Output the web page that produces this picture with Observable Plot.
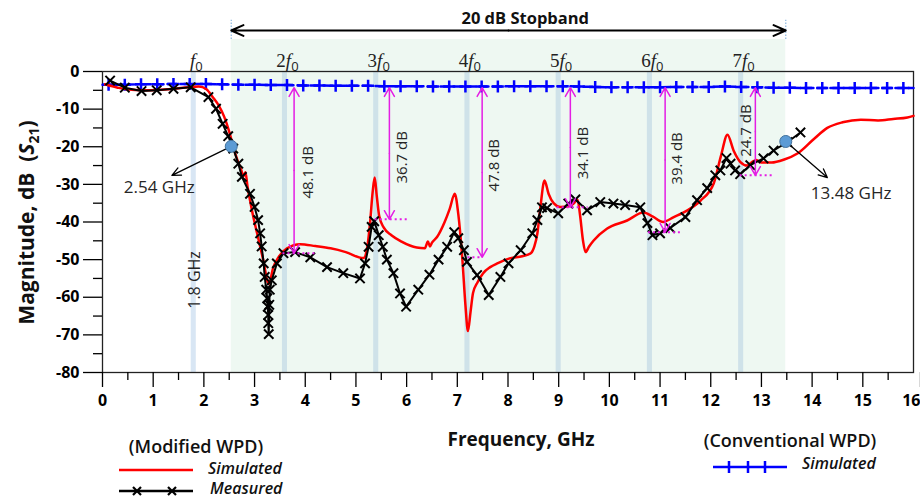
<!DOCTYPE html>
<html><head><meta charset="utf-8">
<script src="https://cdn.jsdelivr.net/npm/d3@7"></script>
<script src="https://cdn.jsdelivr.net/npm/@observablehq/plot@0.6"></script>
<style>
body{margin:0;background:#fff;}
svg{display:block;}
</style>
</head><body><div id="chart"></div>
<script>
// ---- Data ----
// Modified WPD, simulated (red)
const simF  = [0.05,0.3,0.5,0.8,1.1,1.4,1.7,1.9,2.05,2.18,2.3,2.4,2.5,2.58,2.66,2.74,2.78,2.82,2.86,2.9,2.95,3.05,3.17,3.28,3.37,3.47,3.64,3.9,4.2,4.5,4.8,5.15,5.22,5.28,5.33,5.37,5.41,5.46,5.55,5.7,5.9,6.2,6.36,6.42,6.46,6.5,6.6,6.75,6.85,6.95,7.02,7.1,7.16,7.21,7.26,7.31,7.4,7.51,7.65,7.79,8.05,8.28,8.45,8.52,8.58,8.64,8.72,8.8,8.9,9.03,9.2,9.3,9.37,9.42,9.48,9.53,9.6,9.69,9.95,10.35,10.67,10.86,11.06,11.27,11.54,11.8,12.06,12.2,12.33,12.45,12.58,12.72,12.82,12.9,13.0,13.2,13.45,13.71,14.03,14.3,14.6,14.96,15.3,15.6,15.88,16.0];
const simDb = [-3.4,-4.3,-4.8,-5.0,-4.9,-4.6,-4.2,-4.0,-4.7,-6.9,-9.2,-12,-16,-20,-23.5,-26.3,-27.8,-26.8,-30.5,-33.5,-37,-43,-50,-56.5,-52,-49.4,-47,-45.9,-46.4,-47,-48,-49.6,-47,-40,-32,-28.2,-33,-38.5,-41.5,-43.5,-45.2,-46.8,-47,-45.2,-46.5,-45.5,-44,-40,-36.5,-32.5,-38,-50,-62,-69,-64,-58.9,-56,-53.6,-52,-51,-49.6,-49.1,-48.3,-46.5,-43,-36,-29,-32.5,-35,-36,-35.8,-35,-34,-38,-45,-48,-46.5,-44.9,-41.8,-39.6,-37.5,-38.6,-40,-38.7,-36.9,-34.3,-29.7,-22.5,-16.8,-21,-24,-25,-24,-23.5,-24.2,-24.2,-23.4,-21.8,-18,-15,-13.5,-12.8,-13,-12.6,-12.2,-11.8];

// Modified WPD, measured (black with x markers)
const measF  = [0.15,0.44,0.77,1.07,1.4,1.74,2.09,2.24,2.37,2.48,2.58,2.68,2.75,2.91,3.0,3.07,3.11,3.14,3.18,3.2,3.23,3.25,3.26,3.27,3.27,3.28,3.29,3.3,3.34,3.44,3.57,3.8,4.1,4.43,4.75,5.08,5.18,5.25,5.31,5.36,5.45,5.53,5.61,5.74,5.87,5.99,6.23,6.45,6.63,6.8,6.94,7.02,7.13,7.19,7.39,7.62,7.85,8.01,8.25,8.48,8.58,8.67,8.77,8.99,9.19,9.33,9.56,9.82,10.08,10.31,10.61,10.75,10.85,11.0,11.2,11.5,11.73,11.93,12.09,12.19,12.31,12.39,12.48,12.58,12.78,13.04,13.24,13.51,13.77];
const measDb = [-2.4,-4.3,-5.2,-5.0,-4.6,-4.2,-6.8,-9.9,-13.9,-17.2,-20.5,-24.5,-28,-32.5,-36,-39.5,-43,-46.5,-51,-54.6,-58,-60.3,-62.5,-64.7,-66.9,-69.8,-62,-58,-55.5,-51,-48.3,-48,-49.4,-52,-53.6,-55,-51,-46.6,-41.3,-39.8,-43.5,-46.6,-50,-53.6,-59,-62.5,-58,-54,-50,-46.6,-42.7,-44.3,-47.5,-50.6,-54.1,-59.4,-54.6,-51,-47.5,-43,-39.5,-36.1,-36.3,-37.7,-35.1,-34,-36.9,-34.7,-35.1,-35.5,-36.1,-40.3,-43.5,-43,-41.6,-38.7,-34.2,-31,-27.6,-26.3,-23,-24.5,-26.3,-27.3,-24.9,-23.1,-21,-18.8,-16.2];

// Conventional WPD, simulated (blue with + markers)
const convF  = [0,0.12,0.44,0.76,1.08,1.4,1.72,2.04,2.36,2.68,3.0,3.32,3.64,3.96,4.28,4.6,4.92,5.24,5.56,5.88,6.2,6.52,6.84,7.16,7.48,7.8,8.12,8.44,8.76,9.08,9.4,9.72,10.04,10.36,10.68,11.0,11.32,11.64,11.96,12.28,12.6,12.92,13.24,13.56,13.88,14.2,14.52,14.84,15.16,15.48,15.8,16];
const convDb = [-3.5,-3.5,-3.5,-3.4,-3.4,-3.3,-3.3,-3.3,-3.4,-3.5,-3.5,-3.6,-3.6,-3.7,-3.7,-3.8,-3.8,-3.8,-3.9,-3.9,-3.9,-4.0,-4.0,-4.0,-4.0,-4.0,-3.9,-3.9,-3.9,-3.9,-4.0,-4.1,-4.2,-4.2,-4.2,-4.2,-4.1,-4.1,-4.1,-4.0,-4.1,-4.2,-4.3,-4.3,-4.4,-4.4,-4.4,-4.4,-4.4,-4.4,-4.4,-4.4];

// Harmonics of f0
const f0 = 1.8;
const harmonicN = [1,2,3,4,5,6,7];

// Stopband edges (GHz)
const stopbandEdges = [2.54, 13.48];
const stopbandLabel = "20 dB Stopband";
const edgeDb = [-19.9, -18.6];
const edgeLabels = ["2.54 GHz", "13.48 GHz"];

// Harmonic suppression annotations
const suppF      = [3.78, 5.66, 7.49, 9.23, 11.10, 12.88];
const suppBottom = [-48.3, -39.3, -49.4, -36.1, -42.7, -27.6];
const suppLabels = ["48.1 dB","36.7 dB","47.8 dB","34.1 dB","39.4 dB","24.7 dB"];
const suppTop = -4.3;

// Ticks
const xMajor = d3.range(0, 16, 1);
const xLast = [16];
const xMinor = d3.range(0.5, 16, 1);
const yMajor = d3.range(-80, 1, 10);
const yMinor = d3.range(-75, 0, 10);

// ---- Build tables ----
const simRows  = simF.map((f,i)=>({f, db: simDb[i]}));
const measRows = measF.map((f,i)=>({f, db: measDb[i]}));
const convRows = convF.map((f,i)=>({f, db: convDb[i]}));
const convMarks = convRows.filter(d => d.f > 0 && d.f < 16);
const harmonics = harmonicN.map(n => ({n, f: n*f0}));
const supp = suppF.map((f,i)=>({f, bottom: suppBottom[i], label: suppLabels[i], mid:(suppTop+suppBottom[i])/2}));
// annotation layout (not data)
const suppLabelLayout = [{dx:14,y:-26.8},{dx:13,y:-22.8},{dx:12,y:-24.9},{dx:13,y:-21.7},{dx:12,y:-23.1},{dx:-9,y:-15.7}];
const suppDots = [[3.56,4.25],[5.38,6.05],[7.21,7.49],[8.97,9.58],[10.77,11.44],[12.58,13.22]];
const edgeRows = stopbandEdges.map((f,i)=>({f, db: edgeDb[i], label: edgeLabels[i]}));
const edgeArrowEnd = [{f:1.37, db:-27.6}, {f:14.3, db:-28.2}];
const edgeLabelPos = [{f:1.12, db:-30.8}, {f:14.77, db:-32.4}];

const plusSym = {draw(ctx, size){const r=Math.sqrt(size/Math.PI); ctx.moveTo(-r,0); ctx.lineTo(r,0); ctx.moveTo(0,-r); ctx.lineTo(0,r);}};
const timesSym = {draw(ctx, size){const r=Math.sqrt(size/Math.PI)*0.72; ctx.moveTo(-r,-r); ctx.lineTo(r,r); ctx.moveTo(-r,r); ctx.lineTo(r,-r);}};

const MAG = "#e41ee4";
const txt = "#262626";
const sans = "Open Sans, sans-serif";

const stopMid = (stopbandEdges[0]+stopbandEdges[1])/2;

const suppTextMarks = supp.map((d,i) => Plot.text([d], {x: "f", y: suppLabelLayout[i].y, dx: suppLabelLayout[i].dx, text: "label", rotate: -90, fontSize: 15, fill: txt}));

const plot = Plot.plot({
  width: 920, height: 498,
  marginLeft: 102, marginRight: 7, marginTop: 71, marginBottom: 126,
  x: {domain: [0, 16]},
  y: {domain: [-80, 0]},
  color: {type: "identity"},
  style: {fontFamily: sans, background: "white", overflow: "visible"},
  marks: [
    // stopband shading
    Plot.rect([stopbandEdges], {x1: d=>d[0], x2: d=>d[1], y1: -80, y2: 8.5, fill: "#eef8f2"}),
    // harmonic bands
    Plot.rect(harmonics, {x1: d=>d.f-0.05, x2: d=>d.f+0.05, y1: -80, y2: 0,
      fill: d => (d.f < stopbandEdges[0] ? "#d8e6f4" : "#cfe2e9")}),
    // stopband edge dotted markers
    Plot.ruleX(stopbandEdges, {x: d=>d, y1: 8.5, y2: 13.6, stroke: "#8db8e0", strokeWidth: 1.2, strokeDasharray: "1.5,1.5"}),
    Plot.frame({stroke: "#222", strokeWidth: 1.3}),
    Plot.axisY({ticks: yMajor, tickSize: 19, tickPadding: 4, tickFormat: d => String(d), fontSize: 16, fontWeight: "bold", label: null, strokeWidth: 1.3}),
    Plot.axisY({ticks: yMinor, tickSize: 9, tickFormat: () => "", label: null, strokeWidth: 1.3}),
    Plot.axisX({ticks: xMajor, tickSize: 15, tickPadding: 7, tickFormat: d => String(d), fontSize: 16, fontWeight: "bold", label: null, strokeWidth: 1.3}),
    Plot.axisX({ticks: xLast, tickSize: 15, tickPadding: 7, tickFormat: d => String(d), fontSize: 16, fontWeight: "bold", label: null, strokeWidth: 1.3, textAnchor: "end", dx: 7}),
    Plot.axisX({ticks: xMinor, tickSize: 8, tickFormat: () => "", label: null, strokeWidth: 1.3}),
    // conventional (blue)
    Plot.line(convRows, {x: "f", y: "db", stroke: "#0000ff", strokeWidth: 2.5, strokeDasharray: "9,4"}),
    Plot.dot(convMarks, {x: "f", y: "db", symbol: plusSym, r: 6, stroke: "#0000ff", fill: "none", strokeWidth: 2.5}),
    // simulated (red)
    Plot.line(simRows, {x: "f", y: "db", stroke: "#ff0000", strokeWidth: 2.5, curve: "monotone-x"}),
    // measured (black)
    Plot.line(measRows, {x: "f", y: "db", stroke: "#000", strokeWidth: 2}),
    Plot.dot(measRows, {x: "f", y: "db", symbol: timesSym, r: 6.5, stroke: "#000", fill: "none", strokeWidth: 2}),
    // edge dots and arrows
    Plot.arrow(edgeRows, {x1: "f", y1: "db", x2: (d,i)=>edgeArrowEnd[i].f, y2: (d,i)=>edgeArrowEnd[i].db, stroke: "#000", strokeWidth: 1.3, headLength: 11, headAngle: 50}),
    Plot.dot(edgeRows, {x: "f", y: "db", r: 6, fill: "#5b9bd5", stroke: "#41719c", strokeWidth: 1}),
    Plot.text(edgeRows, {x: (d,i)=>edgeLabelPos[i].f, y: (d,i)=>edgeLabelPos[i].db, text: "label", fontSize: 17, fill: txt}),
    // 1.8 GHz label
    Plot.text([f0], {x: d=>d, y: -55.4, dx: 1, text: d => `${d} GHz`, rotate: -90, fontSize: 16, fill: txt}),
    // harmonic suppression arrows
    Plot.arrow(supp, {x1: "f", x2: "f", y1: "mid", y2: suppTop, stroke: MAG, strokeWidth: 1.5, headLength: 10, headAngle: 60}),
    Plot.arrow(supp, {x1: "f", x2: "f", y1: "mid", y2: "bottom", stroke: MAG, strokeWidth: 1.5, headLength: 10, headAngle: 60}),
    Plot.ruleY(supp, {y: "bottom", x1: (d,i)=>suppDots[i][0], x2: (d,i)=>suppDots[i][1], stroke: MAG, strokeWidth: 2, strokeDasharray: "2,3"}),
    ...suppTextMarks,
    // stopband arrow
    Plot.arrow([stopMid], {x1: d=>d, x2: stopbandEdges[0], y1: 10.9, y2: 10.9, stroke: "#000", strokeWidth: 2, headLength: 10, headAngle: 48}),
    Plot.arrow([stopMid], {x1: d=>d, x2: stopbandEdges[1], y1: 10.9, y2: 10.9, stroke: "#000", strokeWidth: 2, headLength: 10, headAngle: 48}),
    Plot.text([stopbandLabel], {x: 8.34, y: 14.1, text: d=>d, fontSize: 16.5, fontWeight: "bold", fill: "#111"})
  ]
});

document.getElementById("chart").appendChild(plot);

const svg = d3.select(plot);
const xs = plot.scale("x"), ys = plot.scale("y");

// harmonic labels n f0
const hg = svg.append("g").attr("font-family", "Liberation Serif, serif").attr("font-size", 19).attr("fill", "#222").attr("text-anchor", "middle");
harmonics.forEach(h => {
  const t = hg.append("text").attr("x", xs.apply(h.f) + 3).attr("y", 67);
  if (h.n > 1) t.append("tspan").text(h.n);
  t.append("tspan").attr("font-style", "italic").text("f");
  t.append("tspan").attr("font-size", 13).attr("font-family", sans).attr("dy", 4).text("0");
});

// Y axis title
const yt = svg.append("text").attr("transform", `translate(34,${(ys.apply(-80)+ys.apply(0))/2 + 1}) rotate(-90)`)
  .attr("text-anchor", "middle").attr("font-family", sans).attr("font-weight", "bold").attr("font-size", 21).attr("fill", "#111");
yt.append("tspan").text("Magnitude, dB\u00a0\u00a0(");
yt.append("tspan").attr("font-style", "italic").text("S");
yt.append("tspan").attr("font-size", 14).attr("dy", 5).text("21");
yt.append("tspan").attr("dy", -5).text(")");

// X axis title
svg.append("text").attr("x", 521).attr("y", 446).attr("text-anchor", "middle").attr("font-family", sans)
  .attr("font-weight", "bold").attr("font-size", 19).attr("fill", "#111").text("Frequency, GHz");

// Legends
const lg = svg.append("g").attr("font-family", sans).attr("fill", "#111").attr("text-anchor", "start");
lg.append("text").attr("x", 196).attr("y", 453).attr("text-anchor", "middle").attr("font-size", 18).attr("font-weight", 600).text("(Modified WPD)");
lg.append("line").attr("x1", 119).attr("x2", 193).attr("y1", 470).attr("y2", 470).attr("stroke", "#ff0000").attr("stroke-width", 2.5);
lg.append("text").attr("x", 208).attr("y", 474).attr("font-size", 16).attr("font-style", "italic").attr("font-weight", 600).text("Simulated");
lg.append("line").attr("x1", 119).attr("x2", 193).attr("y1", 491).attr("y2", 491).attr("stroke", "#000").attr("stroke-width", 2.5);
[137,172].forEach(x => lg.append("path").attr("d", `M${x-4},${491-4}L${x+4},${491+4}M${x-4},${491+4}L${x+4},${491-4}`).attr("stroke", "#000").attr("stroke-width", 2.2));
lg.append("text").attr("x", 210).attr("y", 494).attr("font-size", 16).attr("font-style", "italic").attr("font-weight", 600).text("Measured");
lg.append("text").attr("x", 790).attr("y", 447).attr("text-anchor", "middle").attr("font-size", 18).attr("font-weight", 600).text("(Conventional WPD)");
lg.append("line").attr("x1", 713).attr("x2", 787).attr("y1", 467).attr("y2", 467).attr("stroke", "#0000ff").attr("stroke-width", 2.5);
[729,748,765].forEach(x => lg.append("line").attr("x1", x).attr("x2", x).attr("y1", 461).attr("y2", 473).attr("stroke", "#0000ff").attr("stroke-width", 2.5));
lg.append("text").attr("x", 802).attr("y", 469).attr("font-size", 16).attr("font-style", "italic").attr("font-weight", 600).text("Simulated");
</script>
</body></html>
